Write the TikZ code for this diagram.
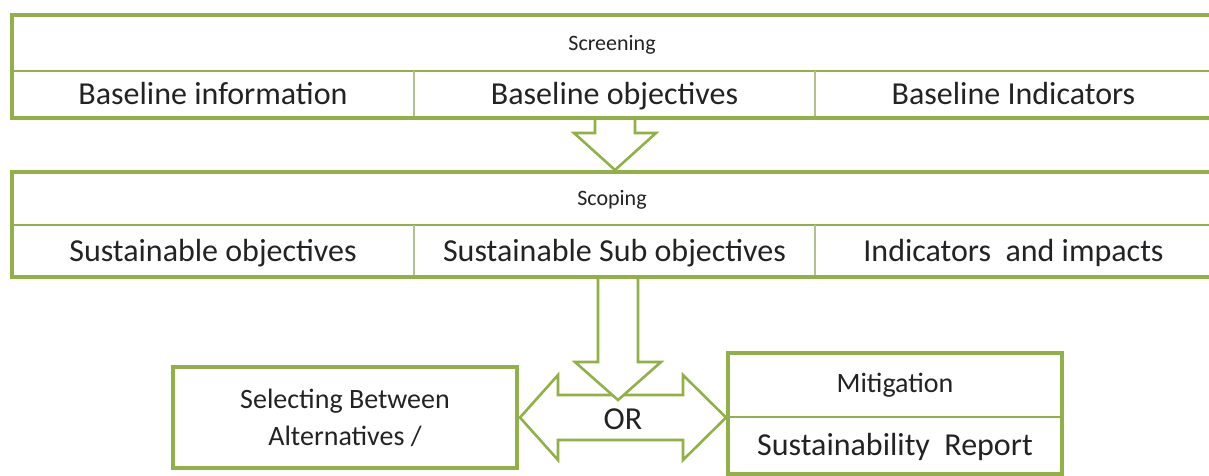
\documentclass[tikz,border=0pt]{standalone}
\usepackage{fontspec}
\setmainfont{Carlito}
\usepackage{tikz}
\usetikzlibrary{calc, positioning}

\definecolor{leafgreen}{RGB}{146,176,72}
\definecolor{paleleaf}{RGB}{178,192,146}
\definecolor{inkgray}{RGB}{35,35,35}

\tikzset{
  headcell/.style={inner sep=0pt, outer sep=0pt, text=inkgray, text height=18.5pt, text depth=4.3pt, font=\fontsize{22}{26}\selectfont},
  bodycell/.style={inner sep=0pt, outer sep=0pt, text=inkgray, text height=27pt, text depth=6.4pt, font=\fontsize{32}{38}\selectfont},
  boxcell/.style={inner sep=0pt, outer sep=0pt, text=inkgray, align=center, font=\fontsize{28}{37}\selectfont},
  frame/.style={draw=leafgreen, line width=4pt},
  rowline/.style={draw=leafgreen, line width=2.5pt},
  colline/.style={draw=paleleaf, line width=1.6pt},
  blockarrow/.style={draw=leafgreen, line width=2.6pt, fill=white, line join=miter},
}

\begin{document}
\begin{tikzpicture}[x=1pt, y=-1pt]
      \fill[white] (0,0) rectangle (1209,475);
      \useasboundingbox (0,0) rectangle (1209,475);

      % screening table
      \node[headcell, minimum width=1210pt, minimum height=56pt, anchor=north west] (screen) at (12,15) {\hspace*{-10pt}Screening};
      \node[bodycell, minimum width=402pt, minimum height=47pt, anchor=north west] (binfo) at (screen.south west) {Baseline information};
      \node[bodycell, minimum width=401pt, minimum height=47pt, right=0pt of binfo] (bobj) {Baseline objectives};
      \node[bodycell, minimum width=407pt, minimum height=47pt, right=0pt of bobj] (bind) {Baseline Indicators\hspace*{10pt}};

      \draw[rowline] (screen.south west) -- (screen.south east);
      \draw[colline] (binfo.north east) -- (binfo.south east);
      \draw[colline] (bobj.north east) -- (bobj.south east);
      \draw[frame] (screen.north west) rectangle (bind.south east);

      % scoping table
      \node[headcell, minimum width=1210pt, minimum height=53pt, anchor=north west] (scope) at (12,172) {\hspace*{-10pt}Scoping};
      \node[bodycell, minimum width=402pt, minimum height=52pt, anchor=north west] (sobj) at (scope.south west) {Sustainable objectives};
      \node[bodycell, minimum width=401pt, minimum height=52pt, right=0pt of sobj] (ssub) {Sustainable Sub objectives};
      \node[bodycell, minimum width=407pt, minimum height=52pt, right=0pt of ssub] (simp) {Indicators~ and impacts\hspace*{10pt}};

      \draw[rowline] (scope.south west) -- (scope.south east);
      \draw[colline] (sobj.north east) -- (sobj.south east);
      \draw[colline] (ssub.north east) -- (ssub.south east);
      \draw[frame] (scope.north west) rectangle (simp.south east);

      % screening -> scoping
      \draw[blockarrow] ($(bobj.south)+(-19.5,2)$) -- ++(0,13) -- ++(-21,0) -- ++(41,37)
        -- ++(41,-37) -- ++(-21,0) -- ++(0,-13);

      % bottom boxes
      \node[boxcell, minimum width=344pt, minimum height=101pt, anchor=north west] (select) at (173,367) {Selecting Between\\Alternatives /};
      \draw[frame] (select.north west) rectangle (select.south east);

      \node[boxcell, minimum width=334pt, minimum height=64pt, anchor=north west] (mitig) at (728,353) {Mitigation};
      \node[bodycell, minimum width=334pt, minimum height=57pt, anchor=north west] (report) at (mitig.south west) {Sustainability~ Report};
      \draw[rowline] (mitig.south west) -- (mitig.south east);
      \draw[frame] (mitig.north west) rectangle (report.south east);

      % double arrow between the boxes
      \draw[blockarrow] ($(select.east)+(3,0)$) -- ++(38,-42.5) -- ++(0,20) -- ++(125,0) -- ++(0,-20)
        -- ++(43,42.5) -- ++(-43,42.5) -- ++(0,-20) -- ++(-125,0) -- ++(0,20) -- cycle;

      % scoping -> choice
      \draw[blockarrow] ($(ssub.south)+(-16.5,2)$) -- ++(0,83) -- ++(-23,0) -- ++(43,38)
        -- ++(43,-38) -- ++(-23,0) -- ++(0,-83);

      \node[bodycell] (or) at (623,419) {OR};
\end{tikzpicture}
\end{document}
